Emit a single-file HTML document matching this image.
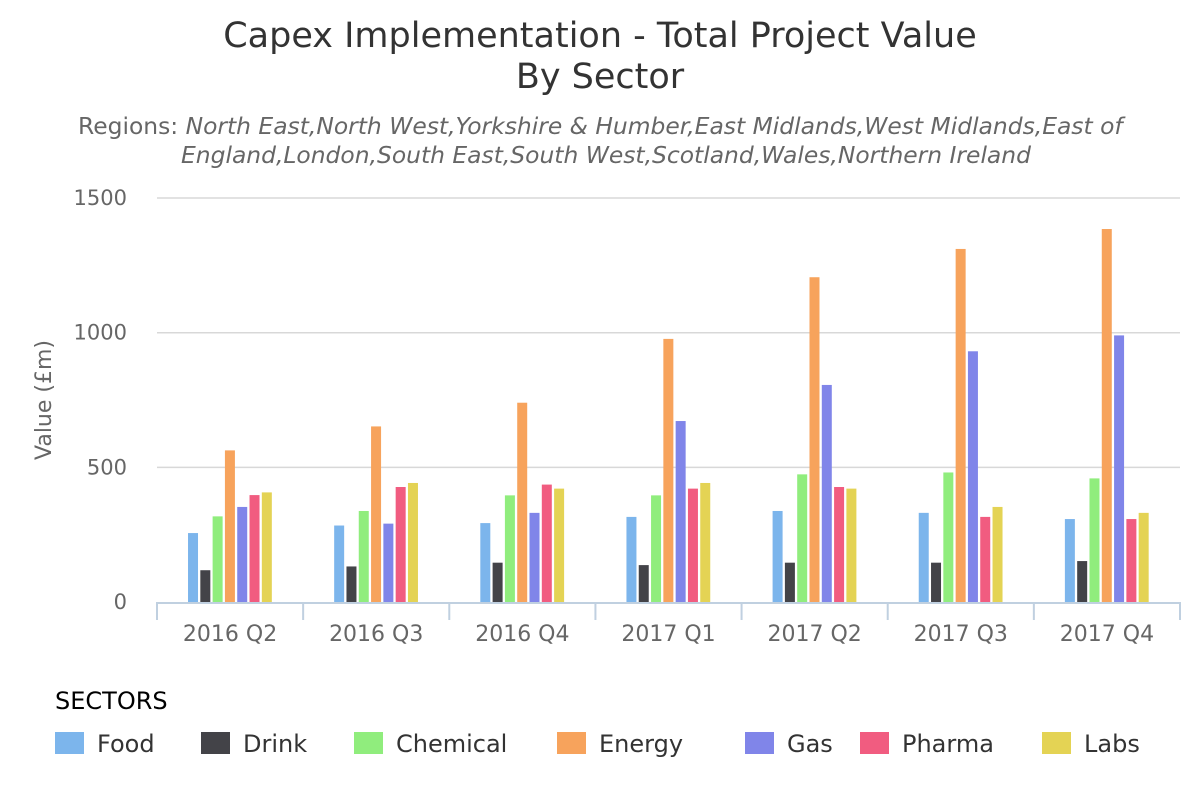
<!DOCTYPE html>
<html><head><meta charset="utf-8"><style>
body{margin:0;background:#fff;font-family:"Liberation Sans","DejaVu Sans",sans-serif}
svg text{font-family:"DejaVu Sans","Liberation Sans",sans-serif}
</style></head><body>
<svg id="chart" width="1200" height="800">
<text x="600" y="47" text-anchor="middle" font-size="35" fill="#333">Capex Implementation - Total Project Value</text>
<text x="600" y="88" text-anchor="middle" font-size="35" fill="#333">By Sector</text>
<text x="78" y="134" font-size="23.4" fill="#666">Regions: <tspan font-style="italic">North East,North West,Yorkshire &amp; Humber,East Midlands,West Midlands,East of</tspan></text>
<text x="181" y="163" font-size="23.4" fill="#666" font-style="italic">England,London,South East,South West,Scotland,Wales,Northern Ireland</text>
<text transform="translate(51,400) rotate(-90)" text-anchor="middle" font-size="22" fill="#666">Value (£m)</text>
<g id="grid"></g><g id="bars"></g><g id="xaxis"></g><g id="legend"></g>
</svg>
<script>
const categories=["2016 Q2","2016 Q3","2016 Q4","2017 Q1","2017 Q2","2017 Q3","2017 Q4"];
const seriesNames=["Food","Drink","Chemical","Energy","Gas","Pharma","Labs"];
const seriesColors=["#7cb5ec","#434348","#90ed7d","#f7a35c","#8085e9","#f15c80","#e4d354"];
const yTicks=[0,500,1000,1500];
const values=[
 [256,284,293,316,338,331,308],
 [118,132,146,137,146,146,152],
 [318,338,396,396,474,481,459],
 [563,652,740,977,1206,1311,1385],
 [353,291,331,672,806,931,990],
 [397,427,436,421,427,316,308],
 [407,442,421,442,421,353,331]
];
const NS="http://www.w3.org/2000/svg";
const x0=157,x1=1180,y0=602,yPer=0.2693;
const bw=(x1-x0)/categories.length;
const Y=v=>y0-v*yPer;
const X=i=>x0+i*bw;
function mk(p,t,a){const e=document.createElementNS(NS,t);for(const k in a)e.setAttribute(k,a[k]);p.appendChild(e);return e;}
const grid=document.getElementById('grid');
yTicks.forEach(v=>{
 if(v>0){const l=mk(grid,'line',{x1:x0,x2:x1,y1:Y(v),y2:Y(v),stroke:'#d8d8d8','stroke-width':1.5});
 
 }
 const t=mk(grid,'text',{x:127,y:Y(v)+7,'text-anchor':'end','font-size':21,fill:'#666'});t.textContent=v;
 
 
});
const bars=document.getElementById('bars');
const pitch=12.3,w=10;
values.forEach((arr,s)=>{arr.forEach((v,i)=>{
 const cx=X(i)+bw/2;
 const x=cx-(pitch*seriesNames.length)/2+s*pitch+1;
 const r=mk(bars,'rect',{x:x,y:Y(v),width:w,height:v*yPer,fill:seriesColors[s]});
 
 
});});
const xa=document.getElementById('xaxis');
const al=mk(xa,'line',{x1:x0,x2:x1,y1:y0+1,y2:y0+1,stroke:'#c0d0e0','stroke-width':2});


for(let i=0;i<=categories.length;i++){
 const tk=mk(xa,'line',{x1:X(i),x2:X(i),y1:y0,y2:y0+18,stroke:'#c0d0e0','stroke-width':2});
 
 
}
categories.forEach((c,i)=>{
 const t=mk(xa,'text',{x:X(i)+bw/2,y:641,'text-anchor':'middle','font-size':22,fill:'#666'});t.textContent=c;
 
 
});
const lg=document.getElementById('legend');
const lt=mk(lg,'text',{x:55,y:709,'font-size':24,fill:'#000'});lt.textContent='SECTORS';


const lx=[55,201,354,557,745,860,1042];
seriesNames.forEach((n,s)=>{
 const g=mk(lg,'g',{});
 
 
 mk(g,'rect',{x:lx[s],y:732,width:29,height:22,fill:seriesColors[s]});
 const t=mk(g,'text',{x:lx[s]+42,y:752,'font-size':24,fill:'#333'});t.textContent=n;
});
</script>
</body></html>
